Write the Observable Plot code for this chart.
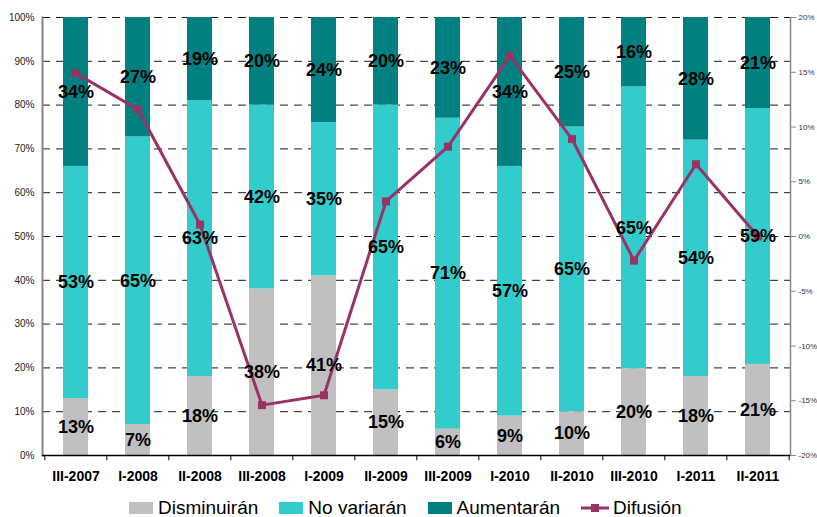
<!DOCTYPE html>
<html>
<head>
<meta charset="utf-8">
<script src="https://cdn.jsdelivr.net/npm/d3@7"></script>
<script src="https://cdn.jsdelivr.net/npm/@observablehq/plot@0.6"></script>
<style>
  html, body { margin: 0; padding: 0; background: #fff; }
  body { width: 817px; height: 517px; position: relative; overflow: hidden; font-family: "Liberation Sans", Arial, sans-serif; }
  #chart svg { display: block; }
  #legend { position: absolute; left: 129px; top: 496px; display: flex; align-items: center; font-size: 19px; color: #000; line-height: 24px; white-space: nowrap; }
  .item { display: flex; align-items: center; margin-right: 21px; }
  .sw { width: 24px; height: 12px; margin-right: 5px; }
</style>
</head>
<body>
<div id="chart"></div>
<div id="legend"></div>
<script>
const categories = ["III-2007","I-2008","II-2008","III-2008","I-2009","II-2009","III-2009","I-2010","II-2010","III-2010","I-2011","II-2011"];
const seriesNames = ["Disminuirán","No variarán","Aumentarán"];
const disminuiran = [13, 7, 18, 38, 41, 15, 6, 9, 10, 20, 18, 21];
const noVariaran  = [53, 65, 63, 42, 35, 65, 71, 57, 65, 65, 54, 59];
const aumentaran  = [34, 27, 19, 20, 24, 20, 23, 34, 25, 16, 28, 21];
const difusion    = [14.9, 11.6, 1.1, -15.4, -14.5, 3.2, 8.2, 16.5, 8.9, -2.2, 6.6, 0.0];
const leftTicks = [0, 10, 20, 30, 40, 50, 60, 70, 80, 90, 100];
const rightTicks = [-20, -15, -10, -5, 0, 5, 10, 15, 20];
const colors = {"Disminuirán": "#C0C0C0", "No variarán": "#33CCCC", "Aumentarán": "#008080"};
const lineColor = "#993366";

const seriesValues = [disminuiran, noVariaran, aumentaran];
const stacked = [];
seriesNames.forEach((s, j) => categories.forEach((c, i) => stacked.push({cat: c, series: s, value: seriesValues[j][i]})));
const line = categories.map((c, i) => ({cat: c, v: difusion[i]}));
const toLeft = v => (v + 20) / 40; // right axis (-20%..20%) mapped onto 0..1

const W = 817, H = 492, mL = 42, mR = 27, mT = 17, mB = 37;
const step = (W - mL - mR) / categories.length;
const font = "Liberation Sans, Arial, sans-serif";

const chart = Plot.plot({
  width: W, height: H,
  marginLeft: mL, marginRight: mR, marginTop: mT, marginBottom: mB,
  style: {fontFamily: font, background: "#fff", color: "#000"},
  x: {type: "band", domain: categories, paddingInner: 0.6, paddingOuter: 0.3},
  y: {domain: [0, 1]},
  marks: [
    Plot.ruleY(leftTicks.slice(1).map(d => d / 100), {stroke: "#000", strokeWidth: 1, strokeDasharray: "8,6", strokeOpacity: 0.9}),
    Plot.barY(stacked, {x: "cat", y: "value", fill: d => colors[d.series], z: "series", offset: "normalize"}),
    Plot.frame({anchor: "left", stroke: "#868686", strokeWidth: 2}),
    Plot.frame({anchor: "right", stroke: "#868686", strokeWidth: 1.5}),
    Plot.ruleY([0], {stroke: "#000", strokeWidth: 1.5}),
    Plot.ruleX(categories, {x: d => d, dx: -step / 2, y1: 0, y2: -0.012, stroke: "#000", strokeWidth: 1}),
    Plot.ruleX([categories[categories.length - 1]], {x: d => d, dx: step / 2, y1: 0, y2: -0.012, stroke: "#000", strokeWidth: 1}),
    Plot.axisY(leftTicks.map(d => d / 100), {anchor: "left", tickSize: 0, tickPadding: 8, fontSize: 10, fill: "#222", tickFormat: d => Math.round(d * 100) + "%", label: null}),
    Plot.axisY(rightTicks.map(toLeft), {anchor: "right", tickSize: 5, tickPadding: 3, fontSize: 8, fill: "#333", stroke: "#868686", tickFormat: d => Math.round(d * 40 - 20) + "%", label: null}),
    Plot.axisX({tickSize: 0, tickPadding: 16, fontSize: 14, fontWeight: "bold", fill: "#000", label: null}),
    Plot.line(line, {x: "cat", y: d => toLeft(d.v), stroke: lineColor, strokeWidth: 3}),
    Plot.dot(line, {x: "cat", y: d => toLeft(d.v), symbol: "square", r: 4.5, fill: lineColor, stroke: "none"}),
    Plot.text(stacked, Plot.stackY({x: "cat", y: "value", z: "series", offset: "normalize", text: d => d.value + "%", fontSize: 18, fontWeight: "bold", fill: "#000"}))
  ]
});
document.getElementById("chart").appendChild(chart);

const legend = document.getElementById("legend");
seriesNames.forEach(s => {
  const it = document.createElement("div");
  it.className = "item";
  it.innerHTML = `<span class="sw" style="background:${colors[s]}"></span><span>${s}</span>`;
  legend.appendChild(it);
});
const li = document.createElement("div");
li.className = "item";
li.innerHTML = `<svg width="28" height="12" style="margin-right:4px"><line x1="0" y1="6" x2="28" y2="6" stroke="${lineColor}" stroke-width="3"/><rect x="10" y="2" width="8" height="8" fill="${lineColor}"/></svg><span>Difusión</span>`;
legend.appendChild(li);
</script>
</body>
</html>
